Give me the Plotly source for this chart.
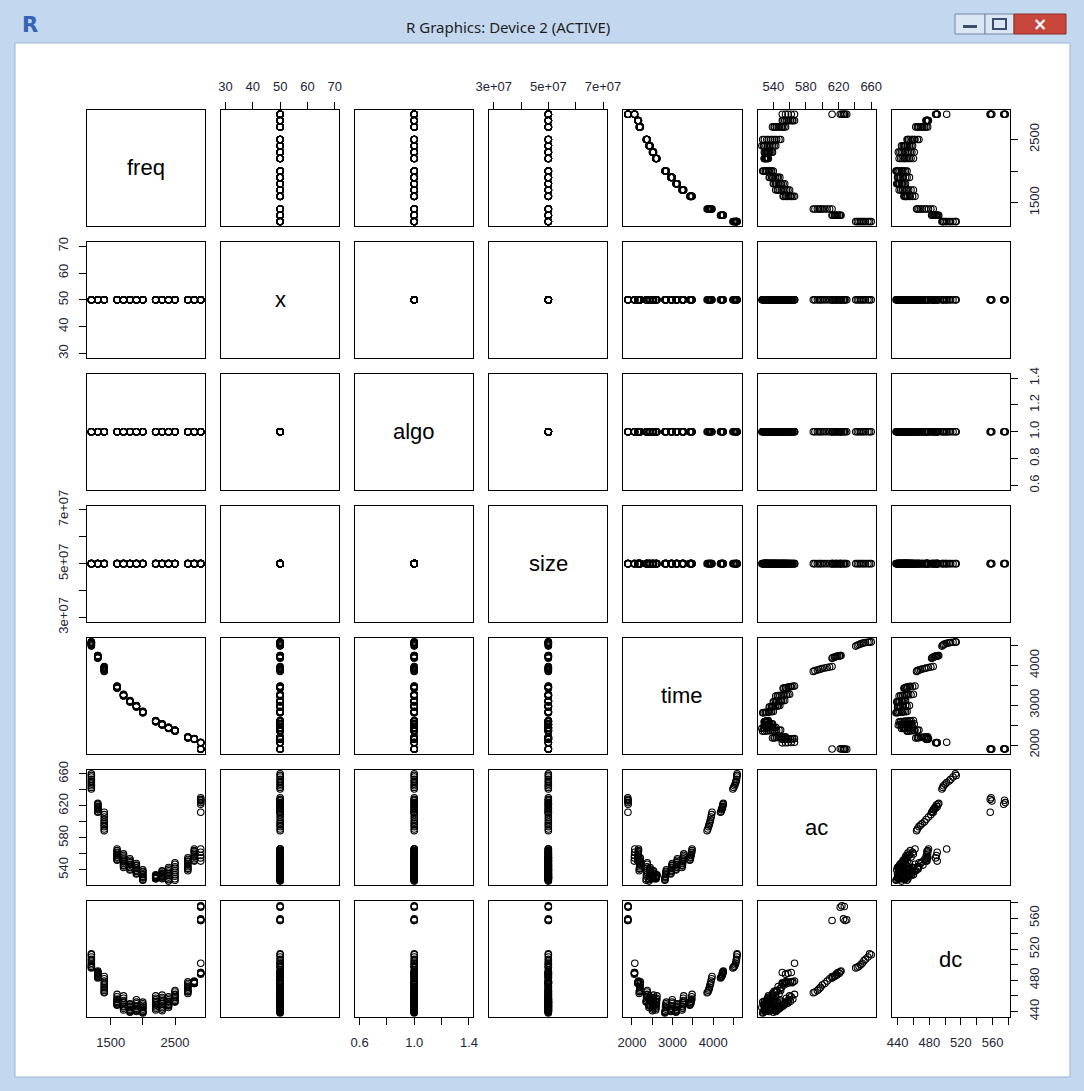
import plotly.graph_objects as go

# ---------------------------------------------------------------------------
# Benchmark measurements: one row per run
# ---------------------------------------------------------------------------
var_names = ["freq", "x", "algo", "size", "time", "ac", "dc"]

freq = [
    1200, 1200, 1200, 1200, 1200, 1200, 1200, 1200, 1200, 1200,
    1300, 1300, 1300, 1300, 1300, 1300, 1300, 1300, 1300, 1300,
    1400, 1400, 1400, 1400, 1400, 1400, 1400, 1400, 1400, 1400,
    1600, 1600, 1600, 1600, 1600, 1600, 1600, 1600, 1600, 1600,
    1700, 1700, 1700, 1700, 1700, 1700, 1700, 1700, 1700, 1700,
    1800, 1800, 1800, 1800, 1800, 1800, 1800, 1800, 1800, 1800,
    1900, 1900, 1900, 1900, 1900, 1900, 1900, 1900, 1900, 1900,
    2000, 2000, 2000, 2000, 2000, 2000, 2000, 2000, 2000, 2000,
    2200, 2200, 2200, 2200, 2200, 2200, 2200, 2200, 2200, 2200,
    2300, 2300, 2300, 2300, 2300, 2300, 2300, 2300, 2300, 2300,
    2400, 2400, 2400, 2400, 2400, 2400, 2400, 2400, 2400, 2400,
    2500, 2500, 2500, 2500, 2500, 2500, 2500, 2500, 2500, 2500,
    2700, 2700, 2700, 2700, 2700, 2700, 2700, 2700, 2700, 2700,
    2800, 2800, 2800, 2800, 2800, 2800, 2800, 2800, 2800, 2800,
    2900, 2900, 2900, 2900, 2900, 2900, 2900, 2900, 2900, 2900, 2900, 2900,
]

time = [
    4590, 4588, 4582, 4575, 4566, 4555, 4540, 4525, 4505, 4485,
    4250, 4245, 4238, 4232, 4228, 4222, 4215, 4205, 4195, 4180,
    3972, 3960, 3948, 3935, 3922, 3910, 3898, 3885, 3868, 3850,
    3482, 3476, 3470, 3463, 3457, 3450, 3444, 3437, 3430, 3424,
    3275, 3270, 3265, 3260, 3255, 3250, 3246, 3242, 3238, 3232,
    3118, 3114, 3110, 3106, 3102, 3099, 3095, 3092, 3088, 3084,
    2992, 2988, 2984, 2980, 2976, 2972, 2968, 2965, 2961, 2957,
    2846, 2842, 2838, 2834, 2830, 2826, 2822, 2818, 2814, 2810,
    2616, 2612, 2608, 2604, 2600, 2597, 2594, 2591, 2588, 2584,
    2532, 2529, 2526, 2523, 2520, 2517, 2514, 2511, 2508, 2504,
    2447, 2444, 2441, 2438, 2435, 2432, 2429, 2426, 2423, 2419,
    2377, 2374, 2371, 2368, 2365, 2362, 2359, 2356, 2353, 2349,
    2207, 2204, 2201, 2198, 2195, 2192, 2189, 2186, 2183, 2179,
    2162, 2160, 2158, 2156, 2154, 2152, 2150, 2148, 2146, 2144,
    1897, 1898, 1900, 1901, 1903, 1904, 1906, 2070, 2066, 2063, 2060, 2057,
]

ac = [
    660, 658, 656, 653, 651, 649, 647, 645, 643, 641,
    623, 622, 621, 619, 618, 617, 616, 615, 613, 612,
    612, 609, 606, 603, 600, 598, 596, 594, 591, 589,
    566, 564, 562, 561, 559, 558, 556, 555, 553, 552,
    560, 558, 556, 554, 552, 550, 548, 546, 545, 543,
    554, 552, 550, 549, 547, 546, 544, 543, 541, 540,
    548, 546, 545, 543, 542, 540, 539, 538, 536, 535,
    540, 538, 537, 535, 534, 532, 531, 530, 528, 527,
    534, 533, 533, 532, 531, 531, 530, 530, 529, 529,
    539, 538, 536, 535, 534, 533, 532, 531, 530, 529,
    543, 541, 539, 537, 535, 533, 531, 529, 528, 526,
    549, 547, 544, 542, 539, 537, 534, 532, 529, 527,
    555, 553, 551, 550, 548, 546, 544, 542, 541, 539,
    566, 564, 563, 561, 559, 557, 556, 554, 552, 551,
    630, 628, 626, 612, 624, 627, 622, 566, 562, 558, 555, 551,
]

dc = [
    513, 514, 510, 507, 505, 502, 500, 498, 497, 496,
    492, 491, 489, 490, 487, 488, 486, 485, 484, 483,
    485, 482, 479, 476, 474, 471, 469, 467, 465, 464,
    462, 456, 459, 453, 455, 451, 450, 452, 449, 448,
    460, 454, 457, 451, 449, 452, 446, 444, 447, 442,
    450, 447, 449, 445, 443, 446, 441, 440, 442, 439,
    455, 450, 452, 447, 444, 446, 442, 443, 441, 440,
    452, 448, 450, 445, 443, 446, 441, 440, 439, 438,
    460, 455, 457, 451, 449, 453, 446, 448, 444, 442,
    461, 456, 458, 452, 450, 454, 447, 445, 443, 441,
    459, 455, 457, 452, 450, 453, 448, 447, 449, 445,
    467, 462, 465, 459, 461, 456, 458, 454, 453, 452,
    478, 474, 476, 471, 469, 472, 467, 465, 466, 463,
    479, 478, 477, 478, 477, 476, 478, 477, 476, 477,
    558, 557, 559, 557, 576, 575, 574, 502, 490, 489, 488, 490,
]

# parameters held fixed in every run
x_param = 50
algo_id = 1
size_bytes = 5e7

n_runs = len(freq)
columns = {
    "freq": freq,
    "x": [x_param] * n_runs,
    "algo": [algo_id] * n_runs,
    "size": [size_bytes] * n_runs,
    "time": time,
    "ac": ac,
    "dc": dc,
}

# tick positions and labels (horizontal axes / vertical axes)
tick_vals = {
    "freq": [1500, 2000, 2500],
    "x": [30, 40, 50, 60, 70],
    "algo": [0.6, 0.8, 1.0, 1.2, 1.4],
    "size": [3e7, 4e7, 5e7, 6e7, 7e7],
    "time": [2000, 2500, 3000, 3500, 4000, 4500],
    "ac": [540, 560, 580, 600, 620, 640, 660],
    "dc": [440, 460, 480, 500, 520, 540, 560, 580],
}
tick_text_h = {
    "freq": ["1500", "", "2500"],
    "x": ["30", "40", "50", "60", "70"],
    "algo": ["0.6", "", "1.0", "", "1.4"],
    "size": ["3e+07", "", "5e+07", "", "7e+07"],
    "time": ["2000", "", "3000", "", "4000", ""],
    "ac": ["540", "", "580", "", "620", "", "660"],
    "dc": ["440", "", "480", "", "520", "", "560", ""],
}
tick_text_v = {
    "freq": ["1500", "", "2500"],
    "x": ["30", "40", "50", "60", "70"],
    "algo": ["0.6", "0.8", "1.0", "1.2", "1.4"],
    "size": ["3e+07", "", "5e+07", "", "7e+07"],
    "time": ["2000", "", "3000", "", "4000", ""],
    "ac": ["540", "", "580", "", "620", "", "660"],
    "dc": ["440", "", "480", "", "520", "", "560", ""],
}


def axis_range(values):
    lo, hi = min(values), max(values)
    if lo == hi:
        lo, hi = lo - 0.4 * abs(lo), hi + 0.4 * abs(hi)
    pad = (hi - lo) * 0.04
    return [lo - pad, hi + pad]


ranges = {v: axis_range(columns[v]) for v in var_names}

# ---------------------------------------------------------------------------
# Page geometry (pixels)
# ---------------------------------------------------------------------------
W, H = 1084, 1091


def px(x):
    return x / W


def py(y):
    return 1 - y / H


left0, top0 = 87.0, 110.0
pitch_x, pitch_y = 134.1, 131.9
panel_w, panel_h = 118.1, 115.9

INK = "#1d2536"
tick_font = dict(family="Liberation Sans, Arial, sans-serif", size=13, color=INK)

fig = go.Figure()
layout_axes = {}
annotations = []

for r in range(7):
    for c in range(7):
        k = r * 7 + c + 1
        sfx = "" if k == 1 else str(k)
        xv, yv = var_names[c], var_names[r]

        if r == c:
            fig.add_trace(go.Scatter(x=[], y=[], xaxis="x" + sfx, yaxis="y" + sfx,
                                     showlegend=False))
            annotations.append(dict(
                text=xv, xref=f"x{sfx} domain", yref=f"y{sfx} domain",
                x=0.5, y=0.5, xanchor="center", yanchor="middle", showarrow=False,
                font=dict(family="Liberation Sans, Arial, sans-serif", size=22, color="black"),
            ))
        else:
            fig.add_trace(go.Scatter(
                x=columns[xv], y=columns[yv], mode="markers",
                xaxis="x" + sfx, yaxis="y" + sfx, showlegend=False, hoverinfo="skip",
                marker=dict(symbol="circle-open", size=6.5, color="black",
                            line=dict(width=1.1, color="black")),
            ))

        x0 = left0 + c * pitch_x
        y0 = top0 + r * pitch_y
        base = dict(showgrid=False, zeroline=False, showline=True, linecolor="black",
                    linewidth=1, mirror=True, ticks="", showticklabels=False,
                    fixedrange=True, automargin=False)

        xa = dict(base, domain=[px(x0), px(x0 + panel_w)], range=ranges[xv],
                  anchor="y" + sfx)
        if (r == 0 and c % 2 == 1) or (r == 6 and c % 2 == 0):
            xa.update(ticks="outside", ticklen=7, tickwidth=1, tickcolor="black",
                      showticklabels=True, tickmode="array",
                      tickvals=tick_vals[xv], ticktext=tick_text_h[xv],
                      tickfont=tick_font, tickangle=0,
                      side="top" if r == 0 else "bottom", ticklabelstandoff=6)

        ya = dict(base, domain=[py(y0 + panel_h), py(y0)], range=ranges[yv],
                  anchor="x" + sfx)
        if (c == 0 and r % 2 == 1) or (c == 6 and r % 2 == 0):
            ya.update(ticks="outside", ticklen=7, tickwidth=1, tickcolor="black",
                      showticklabels=True, tickmode="array",
                      tickvals=tick_vals[yv], ticktext=tick_text_v[yv],
                      tickfont=tick_font, tickangle=-90,
                      side="left" if c == 0 else "right", ticklabelstandoff=6)

        layout_axes["xaxis" + sfx] = xa
        layout_axes["yaxis" + sfx] = ya

# ---------------------------------------------------------------------------
# Window frame around the graphics device
# ---------------------------------------------------------------------------
FRAME = "#C3D7EE"
shapes = [
    # client area
    dict(type="rect", xref="paper", yref="paper", layer="below",
         x0=px(15), x1=px(1070), y0=py(1077), y1=py(43),
         fillcolor="white", line=dict(color="#9DB3CF", width=1)),
    # minimise button
    dict(type="rect", xref="paper", yref="paper",
         x0=px(955), x1=px(985), y0=py(34), y1=py(14),
         fillcolor="#DCE7F4", line=dict(color="#6E85A3", width=1)),
    dict(type="rect", xref="paper", yref="paper",
         x0=px(963), x1=px(977), y0=py(28), y1=py(25),
         fillcolor="#3B4E6B", line=dict(width=0)),
    # maximise button
    dict(type="rect", xref="paper", yref="paper",
         x0=px(985), x1=px(1014), y0=py(34), y1=py(14),
         fillcolor="#DCE7F4", line=dict(color="#6E85A3", width=1)),
    dict(type="rect", xref="paper", yref="paper",
         x0=px(993), x1=px(1006), y0=py(29), y1=py(19),
         fillcolor="rgba(0,0,0,0)", line=dict(color="#3B4E6B", width=2)),
    # close button
    dict(type="rect", xref="paper", yref="paper",
         x0=px(1014), x1=px(1066), y0=py(34), y1=py(14),
         fillcolor="#C9463D", line=dict(color="#8A2B23", width=1)),
]

annotations += [
    dict(text="R Graphics: Device 2 (ACTIVE)", xref="paper", yref="paper",
         x=px(508), y=py(27), xanchor="center", yanchor="middle", showarrow=False,
         font=dict(family="Noto Sans, DejaVu Sans, sans-serif", size=15, color="#1E1E1E")),
    dict(text="<b>R</b>", xref="paper", yref="paper", x=px(30), y=py(25),
         xanchor="center", yanchor="middle", showarrow=False,
         font=dict(family="DejaVu Sans, sans-serif", size=21, color="#3563B5")),
    dict(text="<b>×</b>", xref="paper", yref="paper", x=px(1040), y=py(24),
         xanchor="center", yanchor="middle", showarrow=False,
         font=dict(family="DejaVu Sans, sans-serif", size=17, color="white")),
]

fig.update_layout(
    template="none",
    width=W, height=H, autosize=False,
    margin=dict(l=0, r=0, t=0, b=0, pad=0),
    paper_bgcolor=FRAME, plot_bgcolor="white",
    shapes=shapes, annotations=annotations,
    showlegend=False,
    **layout_axes,
)

fig.write_html("out.html", config={"displayModeBar": False})
